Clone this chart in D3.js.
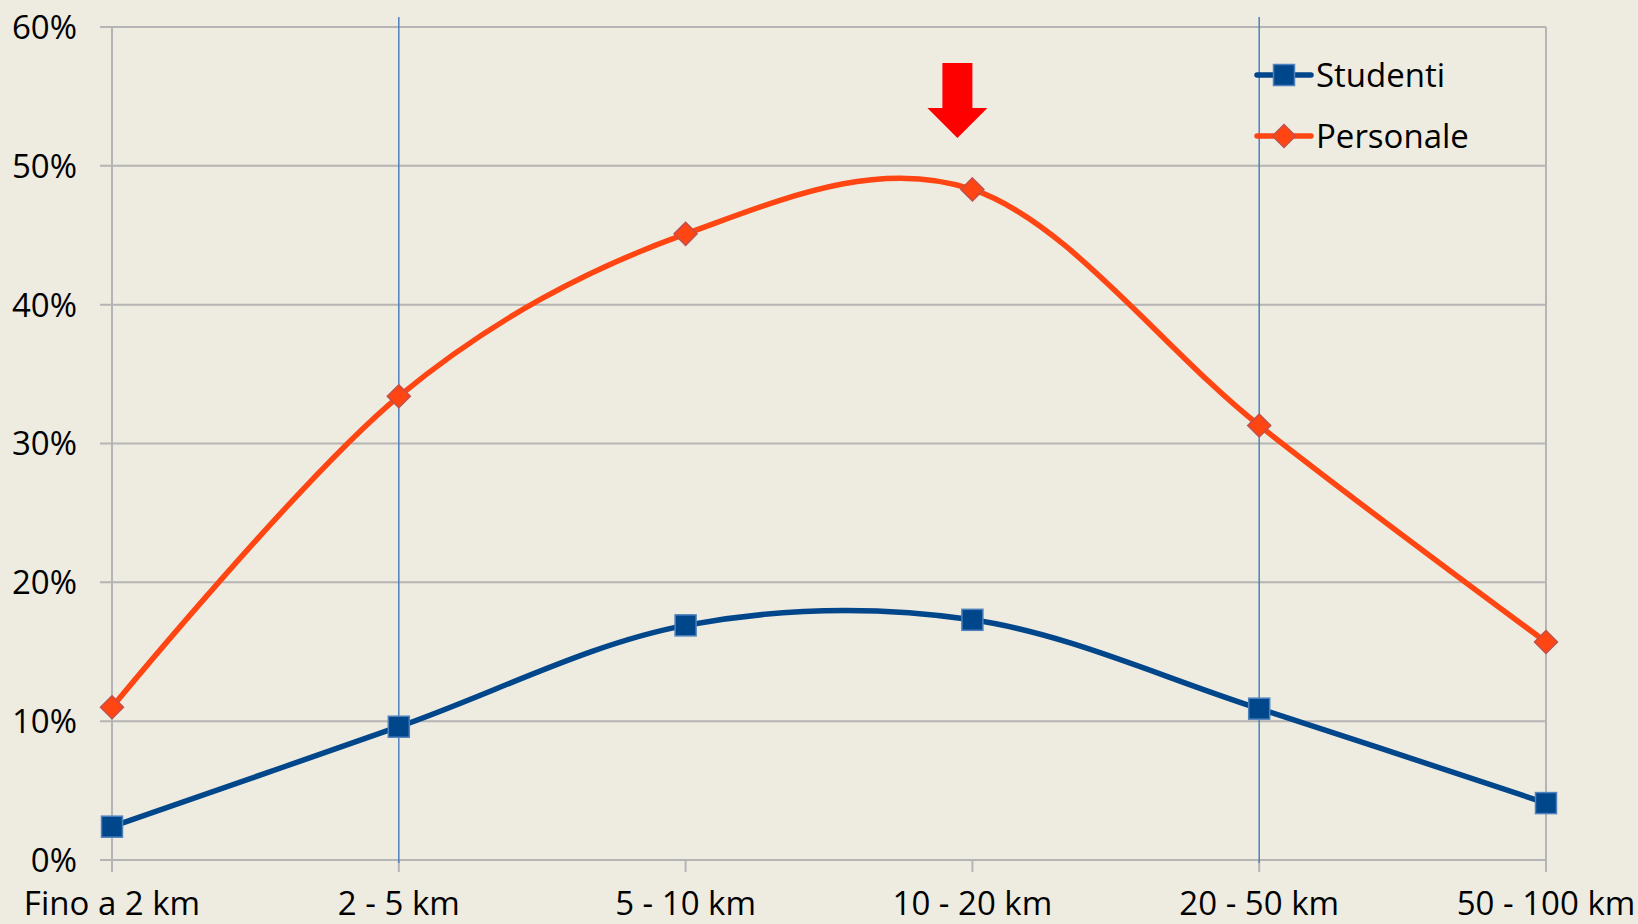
<!DOCTYPE html>
<html>
<head>
<meta charset="utf-8">
<script src="https://cdnjs.cloudflare.com/ajax/libs/d3/7.8.5/d3.min.js"></script>
<style>
  html, body { margin: 0; padding: 0; background: #eeebe0; }
  svg { display: block; }
  text { font-family: "Open Sans", "Noto Sans", sans-serif; fill: #000; }
</style>
</head>
<body>
<div id="chart"></div>
<script>
// Chart data
const categories = ["Fino a 2 km", "2 - 5 km", "5 - 10 km", "10 - 20 km", "20 - 50 km", "50 - 100 km"];
const studenti = [2.4, 9.6, 16.9, 17.3, 10.9, 4.1];
const personale = [11.0, 33.4, 45.1, 48.3, 31.3, 15.7];
const yTicks = [0, 10, 20, 30, 40, 50, 60];
const highlightCategories = ["2 - 5 km", "20 - 50 km"];
const arrowCategory = "10 - 20 km";

const width = 1638;
const height = 924;
const margin = { top: 27, right: 92, bottom: 64, left: 112 };

const svg = d3.select("#chart")
  .append("svg")
  .attr("width", width)
  .attr("height", height);

svg.append("rect")
  .attr("width", width)
  .attr("height", height)
  .attr("fill", "#eeebe0");

const x = d3.scalePoint()
  .domain(categories)
  .range([margin.left, width - margin.right]);

const y = d3.scaleLinear()
  .domain([0, 60])
  .range([height - margin.bottom, margin.top]);

const gridColor = "#b5b5b5";
const fontSize = "33px";

// Horizontal gridlines with small ticks to the left
svg.append("g")
  .selectAll("line")
  .data(yTicks)
  .enter()
  .append("line")
  .attr("x1", margin.left - 12)
  .attr("x2", width - margin.right)
  .attr("y1", (d) => y(d))
  .attr("y2", (d) => y(d))
  .attr("stroke", gridColor)
  .attr("stroke-width", 2);

// Left and right vertical borders + x ticks
svg.append("g")
  .selectAll("line")
  .data(categories)
  .enter()
  .append("line")
  .attr("x1", (d) => x(d))
  .attr("x2", (d) => x(d))
  .attr("y1", (d, i) => (i === 0 || i === categories.length - 1) ? y(60) : y(0))
  .attr("y2", y(0) + 12)
  .attr("stroke", gridColor)
  .attr("stroke-width", 2);

// Blue highlight verticals
svg.append("g")
  .selectAll("line")
  .data(highlightCategories)
  .enter()
  .append("line")
  .attr("x1", (d) => x(d))
  .attr("x2", (d) => x(d))
  .attr("y1", y(60) - 10)
  .attr("y2", y(0) + 3)
  .attr("stroke", "#4f81bd")
  .attr("stroke-width", 1.5);

// Y labels
svg.append("g")
  .selectAll("text")
  .data(yTicks)
  .enter()
  .append("text")
  .attr("x", 77)
  .attr("y", (d) => y(d))
  .attr("dy", "0.36em")
  .attr("text-anchor", "end")
  .style("font-size", fontSize)
  .text((d) => d + "%");

// X labels
svg.append("g")
  .selectAll("text")
  .data(categories)
  .enter()
  .append("text")
  .attr("x", (d) => x(d))
  .attr("y", 915)
  .attr("text-anchor", "middle")
  .style("font-size", fontSize)
  .text((d) => d);

const line = d3.line()
  .x((d, i) => x(categories[i]))
  .y((d) => y(d))
  .curve(d3.curveCardinal.tension(0));

const series = [
  { name: "Studenti", values: studenti, color: "#00468b", marker: "square" },
  { name: "Personale", values: personale, color: "#ff4512", marker: "diamond" }
];

function drawMarker(g, type, cx, cy, s) {
  if (type === "square") {
    g.append("rect")
      .attr("x", cx - s / 2)
      .attr("y", cy - s / 2)
      .attr("width", s)
      .attr("height", s)
      .attr("fill", "#00468b")
      .attr("stroke", "#4f81bd")
      .attr("stroke-width", 1.5);
  } else {
    const h = s / 2;
    g.append("path")
      .attr("d", `M${cx},${cy - h}L${cx + h},${cy}L${cx},${cy + h}L${cx - h},${cy}Z`)
      .attr("fill", "#ff4512")
      .attr("stroke", "#c0504d")
      .attr("stroke-width", 1.5);
  }
}

series.forEach((s) => {
  svg.append("path")
    .datum(s.values)
    .attr("d", line)
    .attr("fill", "none")
    .attr("stroke", s.color)
    .attr("stroke-width", 5.5)
    .attr("stroke-linejoin", "round");

  const mg = svg.append("g");
  s.values.forEach((v, i) => {
    drawMarker(mg, s.marker, x(categories[i]), y(v), s.marker === "square" ? 21 : 23);
  });
});

// Red arrow
const ax = x(arrowCategory) - 15;
const arrowTop = 63;
const arrowHead = 108;
const arrowTip = 138;
svg.append("path")
  .attr("d", `M${ax - 15},${arrowTop}L${ax + 15},${arrowTop}L${ax + 15},${arrowHead}L${ax + 30},${arrowHead}L${ax},${arrowTip}L${ax - 30},${arrowHead}L${ax - 15},${arrowHead}Z`)
  .attr("fill", "#ff0000");

// Legend
const legend = svg.append("g");
series.forEach((s, i) => {
  const ly = 75 + i * 61;
  legend.append("line")
    .attr("x1", 1257)
    .attr("x2", 1311)
    .attr("y1", ly)
    .attr("y2", ly)
    .attr("stroke", s.color)
    .attr("stroke-width", 5.5)
    .attr("stroke-linecap", "round");
  drawMarker(legend, s.marker, 1284, ly, s.marker === "square" ? 21 : 23);
  legend.append("text")
    .attr("x", 1316)
    .attr("y", ly)
    .attr("dy", "0.36em")
    .style("font-size", fontSize)
    .text(s.name);
});
</script>
</body>
</html>
